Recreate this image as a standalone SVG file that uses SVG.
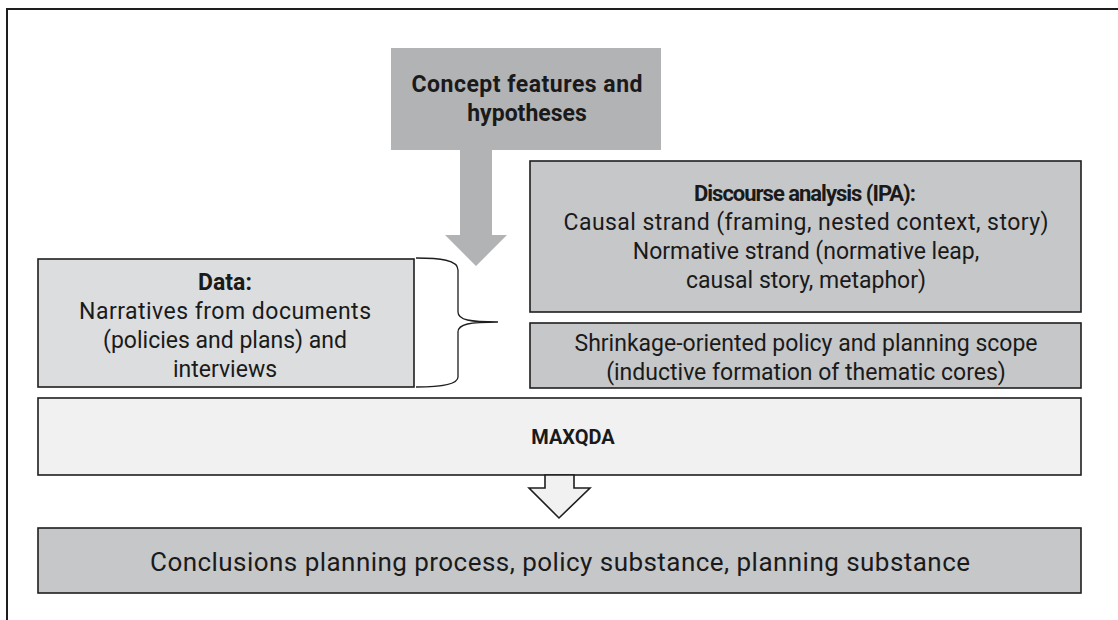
<svg xmlns="http://www.w3.org/2000/svg" width="1118" height="620" viewBox="0 0 1118 620">
<style>
.box{stroke:#1e1e1e;stroke-width:1.6}
.t{font-family:Roboto,"Liberation Sans",sans-serif;font-size:23px;fill:#1a1a1a;text-anchor:middle}
.b{font-weight:700}
.ln{fill:none;stroke:#1e1e1e}
</style>
<rect width="1118" height="620" fill="#ffffff"/>
<g id="frame">
<path class="ln" stroke-width="2" d="M7 620 V9 H1118"/>
</g>
<g id="concept">
<rect x="391" y="48" width="270" height="102" fill="#b1b3b5"/>
<text class="t b" x="527" y="92" textLength="231">Concept features and</text>
<text class="t b" x="527" y="121">hypotheses</text>
</g>
<g id="discourse">
<rect class="box" x="530" y="161" width="551" height="151" fill="#c6c7c9"/>
<text class="t b" x="805" y="201" style="font-size:22px" textLength="222">Discourse analysis (IPA):</text>
<text class="t" x="806" y="230" textLength="485">Causal strand (framing, nested context, story)</text>
<text class="t" x="806" y="259">Normative strand (normative leap,</text>
<text class="t" x="806" y="288">causal story, metaphor)</text>
</g>
<g id="shrinkage">
<rect class="box" x="530" y="323" width="551" height="65" fill="#c6c7c9"/>
<text class="t" x="806" y="351">Shrinkage-oriented policy and planning scope</text>
<text class="t" x="806" y="380">(inductive formation of thematic cores)</text>
</g>
<g id="data">
<rect class="box" x="38" y="259" width="376" height="128" fill="#dcdddf"/>
<text class="t b" x="225" y="290">Data:</text>
<text class="t" x="225" y="319" textLength="292">Narratives from documents</text>
<text class="t" x="225" y="348">(policies and plans) and</text>
<text class="t" x="225" y="377">interviews</text>
</g>
<g id="maxqda">
<rect class="box" x="38" y="398" width="1043" height="77" fill="#f1f1f1"/>
<text class="t b" x="573" y="444" style="font-size:20px">MAXQDA</text>
</g>
<g id="conclusions">
<rect class="box" x="38" y="528" width="1043" height="65" fill="#c6c7c9"/>
<text class="t" x="560" y="571" style="font-size:26px" textLength="820">Conclusions planning process, policy substance, planning substance</text>
</g>
<g id="connectors">
<polygon points="460,150 492,150 492,235 507,235 476,266 445,235 460,235" fill="#b1b3b5"/>
<path class="ln" stroke-width="1.3" d="M416 258 C440 258 458 260 458 270 V312 C458 320 470 322 498 322 C470 322 458 324 458 332 V377 C458 385 440 387 416 387"/>
<polygon class="box" points="545,475 574,475 574,488 590,488 559,518 529,488 545,488" fill="#f1f1f1" stroke-width="1.5"/>
</g>
</svg>
